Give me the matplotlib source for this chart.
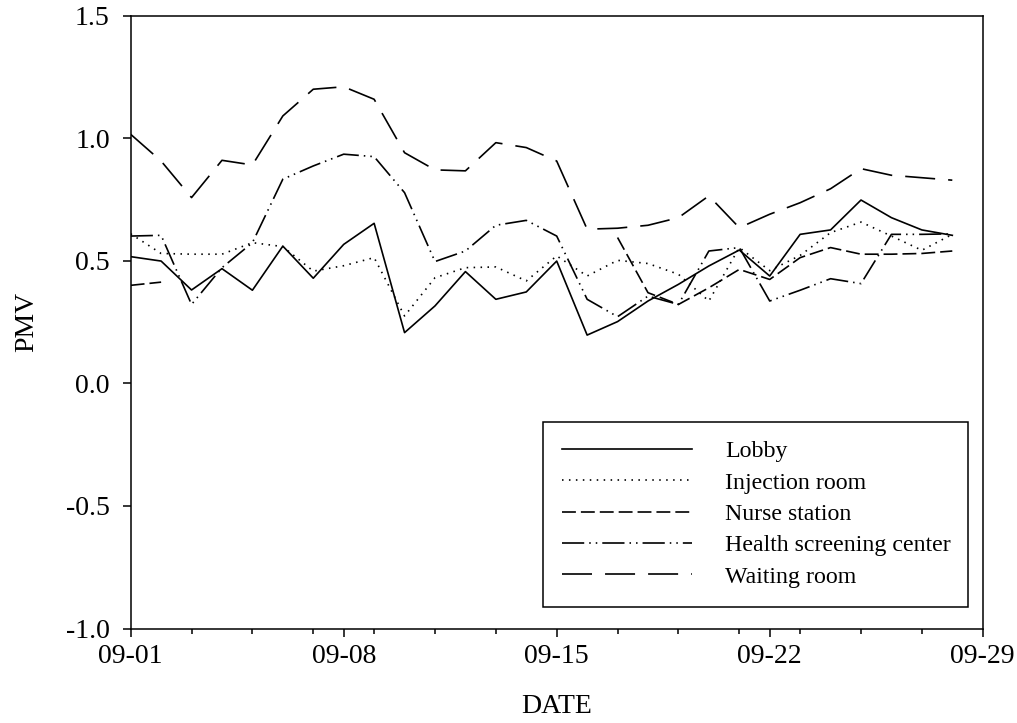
import matplotlib
matplotlib.use('Agg')
import matplotlib.pyplot as plt
import numpy as np

plt.rcParams['font.family'] = ['Liberation Serif', 'DejaVu Serif']
plt.rcParams['axes.unicode_minus'] = False
plt.rcParams['lines.scale_dashes'] = False

nan = np.nan

# jours de septembre (09-01 .. 09-28)
days = list(range(1, 29))

lobby = [0.517, 0.499, 0.381, 0.468, 0.380, 0.560, 0.429, 0.567, 0.653, 0.207,
         0.316, 0.456, 0.343, 0.373, 0.499, 0.197, 0.252, 0.336, 0.404, 0.479,
         0.544, 0.438, 0.608, 0.626, 0.748, 0.676, 0.626, 0.604]
injection = [0.610, 0.530, 0.527, 0.527, 0.574, 0.558, 0.458, 0.480, 0.513, 0.275,
             0.431, 0.472, 0.475, 0.418, 0.520, 0.438, 0.502, 0.489, 0.445, 0.336,
             0.554, 0.460, 0.522, 0.615, 0.658, 0.601, 0.543, 0.608]
# pas de mesure du 09-03 au 09-16
nurse = [0.400, 0.413, nan, nan, nan, nan, nan, nan, nan, nan,
         nan, nan, nan, nan, nan, nan, 0.595, 0.370, 0.322, 0.390,
         0.465, 0.424, 0.513, 0.554, 0.527, 0.527, 0.530, 0.540]
health = [0.601, 0.604, 0.322, 0.472, 0.574, 0.833, 0.887, 0.935, 0.925, 0.778,
          0.497, 0.540, 0.645, 0.665, 0.601, 0.343, 0.272, 0.356, 0.322, 0.540,
          0.554, 0.336, 0.380, 0.427, 0.407, 0.608, 0.608, 0.610]
waiting = [1.016, 0.907, 0.758, 0.910, 0.891, 1.091, 1.200, 1.210, 1.159, 0.941,
           0.871, 0.867, 0.982, 0.962, 0.907, 0.629, 0.633, 0.645, 0.676, 0.765,
           0.635, 0.690, 0.737, 0.794, 0.876, 0.849, 0.839, 0.829]

names = ['Lobby', 'Injection room', 'Nurse station', 'Health screening center', 'Waiting room']
series = [lobby, injection, nurse, health, waiting]
dashes = [None, (1.1, 3.9), (10, 3.6), (16, 3.6, 1.1, 3.6, 1.1, 3.6), (21.6, 9.4)]

xticks = [1, 8, 15, 22, 29]
xlabels = ['09-01', '09-08', '09-15', '09-22', '09-29']
yticks = [-1.0, -0.5, 0.0, 0.5, 1.0, 1.5]

fig = plt.figure(figsize=(10.17, 7.23), dpi=100)
ax = fig.add_axes([0.1285, 0.1307, 0.8378, 0.8476])

for nom, vals, d in zip(names, series, dashes):
    if d is None:
        ax.plot(days, vals, color='black', lw=1.2, label=nom)
    else:
        ax.plot(days, vals, color='black', lw=1.2, dashes=d, label=nom)

ax.set_xlim(1, 29)
ax.set_ylim(-1.0, 1.5)
ax.set_xticks(xticks)
ax.set_xticklabels(xlabels)
ax.set_xticks(range(1, 30, 2), minor=True)
ax.set_yticks(yticks)
ax.set_yticklabels(['%.1f' % v for v in yticks])
ax.tick_params(axis='both', which='major', direction='out', length=6, width=1.1,
               labelsize=20)
ax.tick_params(axis='x', which='major', pad=5)
ax.tick_params(axis='y', which='major', pad=9)
ax.tick_params(axis='x', which='minor', direction='out', length=3.6, width=1.1)
for s in ax.spines.values():
    s.set_linewidth(1.1)

ax.set_xlabel('DATE', fontsize=20)
ax.set_ylabel('PMV', fontsize=20)
ax.xaxis.set_label_coords(0.5, -0.107)
ax.yaxis.set_label_coords(-0.107, 0.5)

leg = ax.legend(loc='lower left', bbox_to_anchor=(0.4836, 0.0356, 0.4988, 0.300),
                mode='expand', borderaxespad=0, fontsize=17.2, handlelength=5.44,
                handletextpad=1.38, labelspacing=0.40, borderpad=0.8, fancybox=False,
                edgecolor='black', framealpha=1)
leg.get_frame().set_linewidth(1.1)

fig.savefig('out.png', dpi=100)
